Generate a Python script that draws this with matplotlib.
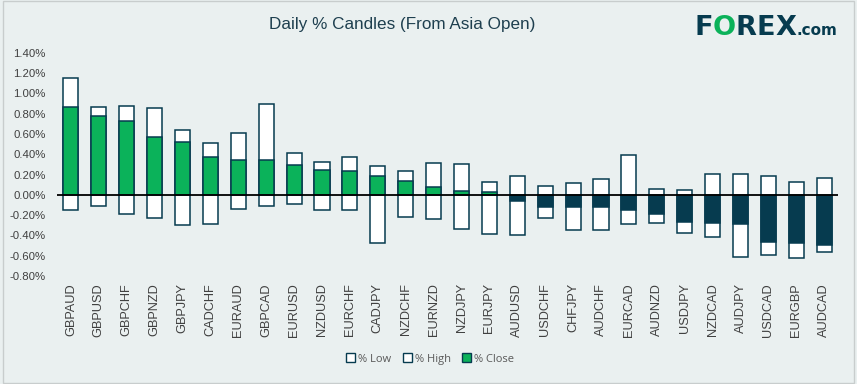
import numpy as np
import matplotlib.pyplot as plt
from matplotlib.patches import Patch

pairs = ["GBPAUD", "GBPUSD", "GBPCHF", "GBPNZD", "GBPJPY", "CADCHF", "EURAUD",
         "GBPCAD", "EURUSD", "NZDUSD", "EURCHF", "CADJPY", "NZDCHF", "EURNZD",
         "NZDJPY", "EURJPY", "AUDUSD", "USDCHF", "CHFJPY", "AUDCHF", "EURCAD",
         "AUDNZD", "USDJPY", "NZDCAD", "AUDJPY", "USDCAD", "EURGBP", "AUDCAD"]

high = [1.148, 0.862, 0.872, 0.852, 0.636, 0.508, 0.607, 0.892, 0.41, 0.321,
        0.370, 0.282, 0.233, 0.311, 0.302, 0.125, 0.184, 0.085, 0.115, 0.154,
        0.39, 0.056, 0.046, 0.203, 0.203, 0.184, 0.125, 0.164]
low = [-0.151, -0.111, -0.19, -0.23, -0.298, -0.289, -0.141, -0.111, -0.092, -0.151,
       -0.151, -0.475, -0.22, -0.239, -0.338, -0.387, -0.397, -0.23, -0.348, -0.348,
       -0.289, -0.279, -0.377, -0.416, -0.613, -0.593, -0.623, -0.564]
close = [0.862, 0.774, 0.725, 0.567, 0.518, 0.370, 0.341, 0.341, 0.292, 0.243,
         0.233, 0.184, 0.134, 0.075, 0.036, 0.026, -0.056, -0.115, -0.115, -0.115,
         -0.154, -0.193, -0.272, -0.282, -0.292, -0.469, -0.479, -0.489]

bg = "#EAF0F0"
navy = "#063B4F"
green = "#0BB25A"
txt = "#404040"
font = "Liberation Sans"

fig = plt.figure(figsize=(8.57, 3.84), dpi=100, facecolor=bg)
ax = fig.add_axes([0.0665, 0.281, 0.9115, 0.582])
ax.set_facecolor(bg)

n = len(pairs)
x = np.arange(n)
w = 0.54
hi = np.array(high)
lo = np.array(low)
cl = np.array(close)

# white box low..high, then the close bar from zero on top
ax.bar(x, hi - lo, bottom=lo, width=w, color="white", edgecolor=navy, linewidth=1.1, zorder=2)
cols = [green if c >= 0 else navy for c in cl]
ax.bar(x, cl, width=w, color=cols, edgecolor=navy, linewidth=1.1, zorder=3)

ax.axhline(0, color="black", linewidth=1.3, zorder=4)

ax.set_xlim(-0.5, n - 0.5)
ax.set_ylim(-0.8, 1.4)
yt = np.round(np.arange(-0.8, 1.41, 0.2), 2)
ax.set_yticks(yt)
ax.set_yticklabels(["%.2f%%" % (v + 0.0) for v in yt], color=txt, fontsize=8.2, family=font)
ax.set_xticks(x)
ax.set_xticklabels(pairs, rotation=90, color=txt, fontsize=9.2, family=font)
ax.tick_params(axis="y", length=0, pad=8)
ax.tick_params(axis="x", length=0, pad=5)
for s in ax.spines.values():
    s.set_visible(False)

fig.text(0.469, 0.937, "Daily % Candles (From Asia Open)", ha="center", va="center",
         fontsize=12.3, color="#1E3F4F", family=font)

# logo, each piece placed right after the previous one
fig.canvas.draw()
r = fig.canvas.get_renderer()
xpos = 0.810
for s, c, fs in [("F", navy, 19.5), ("O", green, 19.5), ("R", navy, 19.5),
                 ("E", navy, 19.5), ("X", navy, 19.5), (".com", navy, 11)]:
    t = fig.text(xpos, 0.908, s, ha="left", va="baseline", fontsize=fs,
                 fontweight="heavy", color=c)
    bb = t.get_window_extent(renderer=r)
    xpos += bb.width / fig.bbox.width

handles = [Patch(facecolor="white", edgecolor=navy, label="% Low"),
           Patch(facecolor="white", edgecolor=navy, label="% High"),
           Patch(facecolor=green, edgecolor=navy, label="% Close")]
fig.legend(handles=handles, loc="center", bbox_to_anchor=(0.502, 0.065), ncol=3, frameon=False,
           prop={"family": "Open Sans", "size": 8}, handlelength=0.8, handleheight=0.8,
           handletextpad=0.3, columnspacing=1.0, labelcolor="#595959")

fig.patches.append(plt.Rectangle((0.003, 0.003), 0.994, 0.994, transform=fig.transFigure,
                                 fill=False, edgecolor="#C8CDCD", linewidth=1))

fig.savefig("out.png", dpi=100, facecolor=bg)
